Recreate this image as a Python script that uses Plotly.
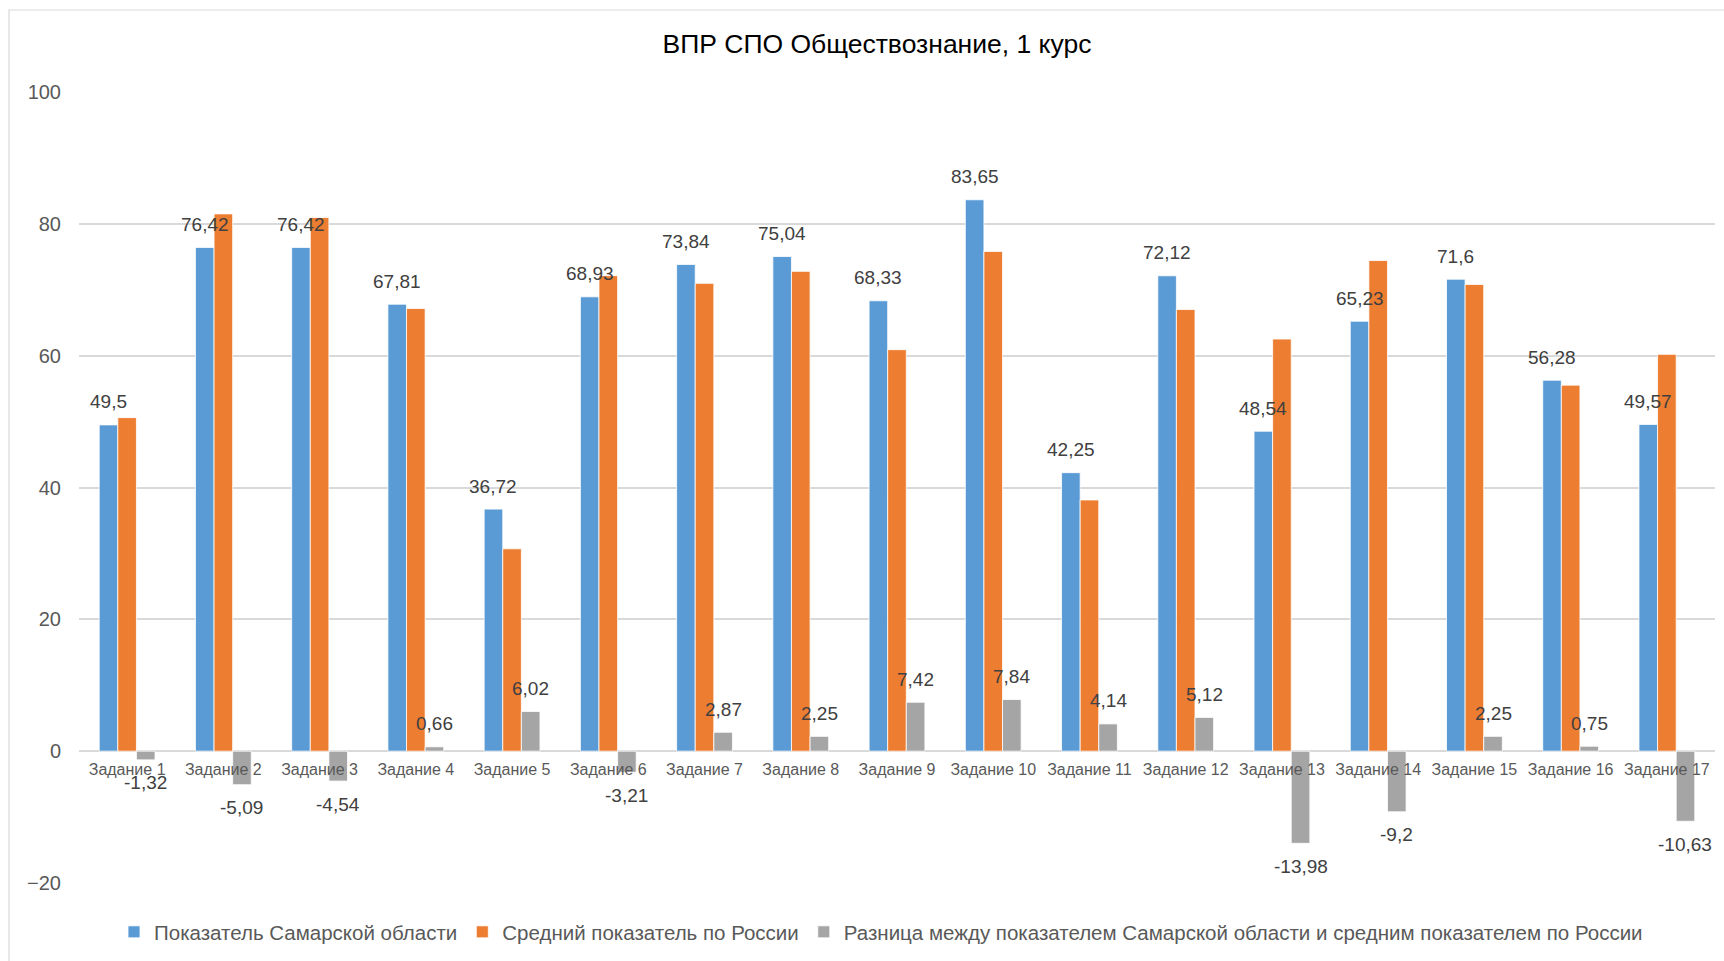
import plotly.graph_objects as go

categories = [f"Задание {i}" for i in range(1, 18)]
samara = [49.5, 76.42, 76.42, 67.81, 36.72, 68.93, 73.84, 75.04, 68.33, 83.65,
          42.25, 72.12, 48.54, 65.23, 71.6, 56.28, 49.57]
russia = [50.6, 81.51, 80.96, 67.15, 30.7, 72.14, 70.97, 72.79, 60.91, 75.81,
          38.11, 67.0, 62.52, 74.43, 70.8, 55.53, 60.2]
diff = [-1.32, -5.09, -4.54, 0.66, 6.02, -3.21, 2.87, 2.25, 7.42, 7.84,
        4.14, 5.12, -13.98, -9.2, 2.25, 0.75, -10.63]

names = ["Показатель Самарской области",
         "Средний показатель по России",
         "Разница между показателем Самарской области и средним показателем по России"]
colors = ["#5B9BD5", "#ED7D31", "#A5A5A5"]

def fmt(v):
    return f"{v:g}".replace(".", ",")

FONT = "Liberation Sans, Arial, sans-serif"
W, H = 1724, 961
ML, MR, MT, MB = 79, 9, 92, 78
pw, ph = W - ML - MR, H - MT - MB
BARGAP = 0.42
bar_px = pw / len(categories) * (1 - BARGAP) / 3

fig = go.Figure()
for name, vals, col in zip(names, [samara, russia, diff], colors):
    fig.add_trace(go.Bar(
        x=categories, y=vals, name=name,
        marker=dict(color=col, line=dict(color="white", width=0.8)),
        hoverinfo="x+y+name",
    ))

annotations = []
for vals, shift in [(samara, -bar_px), (diff, bar_px)]:
    for c, v in zip(categories, vals):
        annotations.append(dict(
            x=c, y=v, xref="x", yref="y", text=fmt(v), showarrow=False,
            xshift=shift, yshift=23 if v >= 0 else -23, yanchor="middle",
            font=dict(size=19, color="#404040", family=FONT)))

fig.update_layout(
    width=W, height=H,
    margin=dict(l=ML, r=MR, t=MT, b=MB),
    paper_bgcolor="white", plot_bgcolor="white",
    barmode="group", bargap=BARGAP, bargroupgap=0,
    font=dict(family=FONT, color="#595959"),
    title=dict(text="ВПР СПО Обществознание, 1 курс", x=(877 - ML) / pw, xref="paper",
               xanchor="center", y=1 - 44 / H, yanchor="middle",
               font=dict(size=26.5, color="#000000", family=FONT)),
    legend=dict(orientation="h", x=(881 - ML) / pw, xanchor="center",
                y=-(932 - (H - MB)) / ph, yanchor="middle",
                font=dict(size=20.5, color="#595959", family=FONT),
                itemwidth=30, tracegroupgap=0, traceorder="normal"),
    xaxis=dict(anchor="free", position=20 / 120, showline=False, showgrid=False,
               ticks="", tickfont=dict(size=16, color="#595959", family=FONT),
               ticklabelstandoff=7),
    yaxis=dict(range=[-20, 100], dtick=20, tick0=0, showgrid=True,
               gridcolor="#D9D9D9", gridwidth=1.5, zeroline=True,
               zerolinecolor="#D9D9D9", zerolinewidth=1.5, ticks="",
               tickfont=dict(size=20, color="#595959", family=FONT),
               ticklabelstandoff=17),
    annotations=annotations,
    shapes=[dict(type="rect", xref="paper", yref="paper",
                 x0=(9 - ML) / pw, x1=(W + 5 - ML) / pw,
                 y0=-(H + 5 - (H - MB)) / ph, y1=1 + (MT - 10) / ph,
                 line=dict(color="#D9D9D9", width=1.2), fillcolor="rgba(0,0,0,0)",
                 layer="below")],
)

fig.write_html("out.html", config={"displayModeBar": False},
               post_script="document.body.style.margin='0';document.body.style.overflow='hidden';")
